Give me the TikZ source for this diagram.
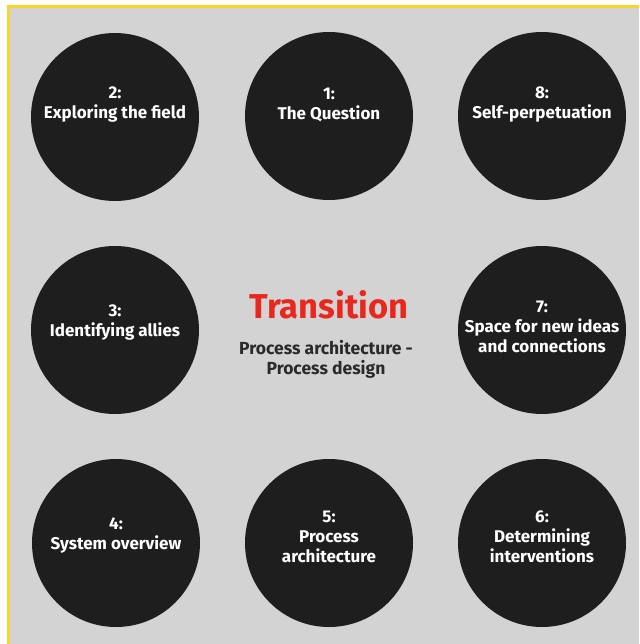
\documentclass[tikz,border=0pt]{standalone}
\usepackage{fontspec}
\setmainfont{Fira Sans}
\definecolor{bggray}{HTML}{D3D3D3}
\definecolor{disc}{HTML}{1E1E1E}
\definecolor{frameyellow}{HTML}{F9D42A}
\definecolor{titlered}{HTML}{E8281E}
\definecolor{subtext}{HTML}{2A2A2A}
\tikzset{
  stepdisc/.style={circle, fill=disc, draw=none, minimum size=168pt, inner sep=0pt},
  disclabel/.style={text=white, font=\bfseries\fontsize{17}{20}\selectfont, align=center, inner sep=0pt},
}
\begin{document}
\begin{tikzpicture}[x=1pt,y=-1pt]
\useasboundingbox (0,0) rectangle (639,644);
\fill[white] (0,0) rectangle (639,644);
\fill[bggray] (8.5,6.5) rectangle (639,644);
\draw[frameyellow, line width=3.2pt] (8.5,644) -- (8.5,6.5) -- (639,6.5);
% discs
\node[stepdisc] (c2) at (115,117) {};
\node[stepdisc] (c1) at (329,116) {};
\node[stepdisc] (c8) at (542,116) {};
\node[stepdisc] (c3) at (115,330) {};
\node[stepdisc] (c7) at (542,330) {};
\node[stepdisc] (c4) at (116,543) {};
\node[stepdisc] (c5) at (329,543) {};
\node[stepdisc] (c6) at (542,543) {};
% labels
\node[disclabel] (t2) at (115,105) {2:\\Exploring the field};
\node[disclabel] (t1) at (329,105) {1:\\The Question};
\node[disclabel] (t8) at (542,105) {8:\\Self-perpetuation};
\node[disclabel] (t3) at (115,323) {3:\\Identifying allies};
\node[disclabel] (t7) at (542,327) {7:\\Space for new ideas\\and connections};
\node[disclabel] (t4) at (116,535) {4:\\System overview};
\node[disclabel] (t5) at (329,537) {5:\\Process\\architecture};
\node[disclabel] (t6) at (542,537) {6:\\Determining\\interventions};
% centre
\node[text=titlered, font=\bfseries\fontsize{34.5}{40}\selectfont, inner sep=0pt] (title) at (329,305) {Transition};
\node[text=subtext, font=\bfseries\fontsize{17.5}{20}\selectfont, align=center, inner sep=0pt] (sub) at (326,359) {Process architecture -\\Process design};
\end{tikzpicture}
\end{document}
